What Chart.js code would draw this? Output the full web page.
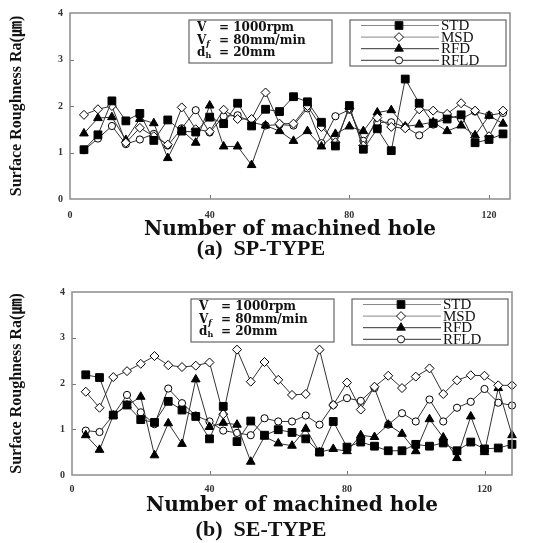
<!DOCTYPE html>
<html>
<head>
<meta charset="utf-8">
<script src="https://cdn.jsdelivr.net/npm/chart.js@4.4.0/dist/chart.umd.min.js"></script>
<style>
  body { margin: 0; background: #fff; width: 548px; height: 543px; position: relative; overflow: hidden; }
  canvas { position: absolute; left: 0; }
  #chartA { top: 0; }
  #chartB { top: 279px; }
  .cap { position: absolute; left: 0; width: 522px; text-align: center; font: bold 22px "Liberation Serif", serif; color: #111; }
</style>
</head>
<body>
<canvas id="chartA" width="548" height="245"></canvas>
<canvas id="chartB" width="548" height="245"></canvas>
<div class="cap" style="top:235px">(a)&nbsp; SP-TYPE</div>
<div class="cap" style="top:516px">(b)&nbsp; SE-TYPE</div>
<script>
// number of machined hole
const holesA = [4, 8, 12, 16, 20, 24, 28, 32, 36, 40, 44, 48, 52, 56, 60, 64, 68, 72, 76, 80, 84, 88, 92, 96, 100, 104, 108, 112, 116, 120, 124];
const holesB = [4, 8, 12, 16, 20, 24, 28, 32, 36, 40, 44, 48, 52, 56, 60, 64, 68, 72, 76, 80, 84, 88, 92, 96, 100, 104, 108, 112, 116, 120, 124, 128];

// (a) SP-TYPE
const stdA  = [1.06, 1.38, 2.11, 1.68, 1.84, 1.26, 1.70, 1.46, 1.44, 1.76, 1.62, 2.06, 1.57, 1.93, 1.88, 2.20, 2.09, 1.65, 1.14, 2.01, 1.07, 1.51, 1.04, 2.58, 2.06, 1.63, 1.72, 1.81, 1.21, 1.28, 1.40];
const msdA  = [1.81, 1.93, 2.00, 1.21, 1.53, 1.35, 1.17, 1.97, 1.50, 1.45, 1.92, 1.72, 1.72, 2.29, 1.62, 1.62, 2.00, 1.55, 1.22, 1.95, 1.15, 1.75, 1.55, 1.52, 1.93, 1.90, 1.83, 2.06, 1.90, 1.35, 1.90];
const rfdA  = [1.41, 1.74, 1.76, 1.27, 1.72, 1.63, 0.88, 1.48, 1.21, 2.01, 1.13, 1.13, 0.73, 1.58, 1.46, 1.25, 1.46, 1.13, 1.40, 1.56, 1.46, 1.86, 1.91, 1.56, 1.60, 1.65, 1.46, 1.58, 1.37, 1.79, 1.62];
const rfldA = [1.05, 1.30, 1.57, 1.18, 1.28, 1.40, 1.15, 1.52, 1.91, 1.43, 1.78, 1.80, 1.65, 1.58, 1.60, 1.58, 1.95, 1.20, 1.78, 1.92, 1.25, 1.65, 1.65, 1.55, 1.37, 1.60, 1.80, 1.72, 1.88, 1.80, 1.85];

// (b) SE-TYPE
const stdB  = [2.19, 2.13, 1.31, 1.53, 1.21, 1.15, 1.61, 1.42, 1.28, 0.79, 1.50, 0.73, 1.18, 0.87, 0.99, 0.93, 0.79, 0.50, 1.17, 0.61, 0.72, 0.63, 0.53, 0.53, 0.67, 0.63, 0.70, 0.53, 0.72, 0.57, 0.59, 0.67];
const msdB  = [1.82, 1.47, 2.14, 2.27, 2.43, 2.60, 2.40, 2.36, 2.39, 2.46, 1.33, 2.74, 2.04, 2.47, 2.08, 1.75, 1.77, 2.74, 1.53, 2.02, 1.43, 1.93, 2.17, 1.90, 2.15, 2.33, 1.77, 2.07, 2.18, 2.17, 1.96, 1.96];
const rfdB  = [0.87, 0.55, 1.30, 1.52, 1.71, 0.43, 1.13, 0.68, 2.09, 1.05, 1.14, 1.10, 0.29, 0.84, 0.69, 0.64, 1.01, 0.50, 0.57, 0.52, 0.87, 0.83, 1.10, 0.90, 0.52, 1.22, 0.82, 0.37, 1.28, 0.50, 1.90, 0.87];
const rfldB = [0.97, 0.94, 1.31, 1.75, 1.37, 1.11, 1.89, 1.57, 1.30, 1.17, 0.97, 0.92, 0.87, 1.24, 1.17, 1.17, 1.30, 1.10, 1.53, 1.68, 1.62, 1.90, 1.10, 1.35, 1.17, 1.65, 1.17, 1.47, 1.60, 1.88, 1.58, 1.52];

const yTicks = [0, 1, 2, 3, 4];
const xTicks = [0, 40, 80, 120];
const seriesNames = ['STD', 'MSD', 'RFD', 'RFLD'];
const noteLines = [['V', '', '= 1000rpm'], ['V', 'f', '= 80mm/min'], ['d', 'h', '= 20mm']];

const markerStyles = [
    { pointStyle: 'rect', radius: 5.5, fill: '#000' },
    { pointStyle: 'rectRot', radius: 4.5, fill: '#fff' },
    { pointStyle: 'triangle', radius: 5, fill: '#000' },
    { pointStyle: 'circle', radius: 3.6, fill: '#fff' }
];

function drawMarker(ctx, m, x, y) {
    ctx.beginPath();
    const r = m.radius;
    if (m.pointStyle === 'rect') {
        const s = r * Math.SQRT1_2;
        ctx.rect(x - s, y - s, 2 * s, 2 * s);
    } else if (m.pointStyle === 'rectRot') {
        ctx.moveTo(x, y - r); ctx.lineTo(x + r, y); ctx.lineTo(x, y + r); ctx.lineTo(x - r, y); ctx.closePath();
    } else if (m.pointStyle === 'triangle') {
        ctx.moveTo(x, y - r);
        ctx.lineTo(x + r * 0.866, y + r * 0.5);
        ctx.lineTo(x - r * 0.866, y + r * 0.5);
        ctx.closePath();
    } else {
        ctx.arc(x, y, r, 0, Math.PI * 2);
    }
    ctx.fillStyle = m.fill;
    ctx.fill();
    ctx.stroke();
}

// frame, inward ticks, condition box and legend
const decorPlugin = {
    id: 'decor',
    afterDraw(chart) {
        const ctx = chart.ctx;
        const a = chart.chartArea;
        const xs = chart.scales.x, ys = chart.scales.y;
        ctx.save();

        // inward tick marks
        ctx.strokeStyle = '#777';
        ctx.lineWidth = 1;
        xTicks.forEach(v => {
            if (v <= 0) return;
            const px = Math.round(xs.getPixelForValue(v)) + 0.5;
            ctx.beginPath(); ctx.moveTo(px, a.bottom); ctx.lineTo(px, a.bottom - 4); ctx.stroke();
        });
        yTicks.forEach(v => {
            if (v <= 0 || v >= 4) return;
            const py = Math.round(ys.getPixelForValue(v)) + 0.5;
            ctx.beginPath(); ctx.moveTo(a.left, py); ctx.lineTo(a.left + 4, py); ctx.stroke();
        });

        // plot frame
        ctx.strokeStyle = '#8c8c8c';
        ctx.lineWidth = 1.5;
        ctx.strokeRect(a.left, a.top, a.right - a.left, a.bottom - a.top);

        // condition box
        const bx = a.left + 119, by = a.top + 7;
        ctx.strokeStyle = '#666';
        ctx.lineWidth = 1.2;
        ctx.strokeRect(bx, by, 143, 43);
        ctx.fillStyle = '#111';
        ctx.textBaseline = 'middle';
        noteLines.forEach((ln, i) => {
            const ty = by + 8 + i * 12.5;
            ctx.font = 'bold 12px "DejaVu Serif", serif';
            ctx.fillText(ln[0], bx + 8, ty);
            const w = ctx.measureText(ln[0]).width;
            if (ln[1]) {
                ctx.font = (ln[1] === 'f' ? 'bold italic ' : 'bold ') + '8px "DejaVu Serif", serif';
                ctx.fillText(ln[1], bx + 8 + w, ty + 3);
            }
            ctx.font = 'bold 12px "DejaVu Serif", serif';
            ctx.fillText(ln[2], bx + 30, ty);
        });

        // legend
        const lx = a.left + 280, ly = a.top + 7;
        ctx.strokeStyle = '#666';
        ctx.lineWidth = 1.2;
        ctx.strokeRect(lx, ly, 156, 46);
        chart.data.datasets.forEach((ds, i) => {
            const ry = ly + 5.5 + i * 11.6;
            ctx.strokeStyle = i < 2 ? '#888' : '#333';
            ctx.lineWidth = 1;
            ctx.beginPath(); ctx.moveTo(lx + 11, ry); ctx.lineTo(lx + 89, ry); ctx.stroke();
            ctx.strokeStyle = '#111';
            drawMarker(ctx, markerStyles[i], lx + 49, ry);
            ctx.fillStyle = '#111';
            ctx.font = '15px "Liberation Serif", serif';
            ctx.fillText(ds.label, lx + 91, ry + 0.5);
        });
        ctx.restore();
    }
};

function makeChart(id, holes, series, cfg) {
    const ctx = document.getElementById(id).getContext('2d');
    return new Chart(ctx, {
        type: 'line',
        data: {
            datasets: series.map((vals, i) => ({
                label: seriesNames[i],
                data: holes.map((h, j) => ({ x: h, y: vals[j] })),
                borderColor: '#333',
                borderWidth: 1,
                pointStyle: markerStyles[i].pointStyle,
                pointRadius: markerStyles[i].radius,
                pointBackgroundColor: markerStyles[i].fill,
                pointBorderColor: '#000',
                pointBorderWidth: 1,
                tension: 0,
                clip: false
            }))
        },
        options: {
            responsive: false,
            animation: false,
            layout: { padding: { top: 8, right: 548 - cfg.right, left: 0, bottom: 0 } },
            plugins: { legend: { display: false }, tooltip: { enabled: false } },
            scales: {
                x: {
                    type: 'linear',
                    min: 0,
                    max: cfg.xMax,
                    grid: { display: false, drawTicks: false },
                    border: { display: false },
                    afterBuildTicks: s => { s.ticks = xTicks.map(v => ({ value: v })); },
                    afterFit: s => { s.height = 245 - cfg.bottom; },
                    ticks: {
                        padding: cfg.tickPad,
                        color: '#333',
                        maxRotation: 0,
                        font: { family: '"Liberation Serif", serif', size: 10, weight: 'bold' }
                    },
                    title: {
                        display: true,
                        text: 'Number of machined hole',
                        color: '#111',
                        padding: { top: 0, bottom: cfg.titlePad },
                        font: { family: '"DejaVu Serif", serif', size: 20, weight: 'bold' }
                    }
                },
                y: {
                    min: 0,
                    max: 4,
                    grid: { display: false, drawTicks: false },
                    border: { display: false },
                    afterBuildTicks: s => { s.ticks = yTicks.map(v => ({ value: v })); },
                    afterFit: s => { s.width = cfg.left; },
                    ticks: {
                        padding: 7,
                        color: '#333',
                        font: { family: '"Liberation Serif", serif', size: 10, weight: 'bold' }
                    },
                    title: {
                        display: true,
                        text: 'Surface Roughness Ra(㎛)',
                        color: '#111',
                        padding: { top: 7, bottom: 0 },
                        font: { family: '"Liberation Serif", "Noto Sans CJK JP", serif', size: 16, weight: 'bold' }
                    }
                }
            }
        },
        plugins: [decorPlugin]
    });
}

makeChart('chartA', holesA, [stdA, msdA, rfdA, rfldA], { left: 70, right: 510, bottom: 199, xMax: 126, tickPad: 10, titlePad: 3 });
makeChart('chartB', holesB, [stdB, msdB, rfdB, rfldB], { left: 72, right: 512, bottom: 196, xMax: 128, tickPad: 8, titlePad: 6 });
</script>
</body>
</html>
